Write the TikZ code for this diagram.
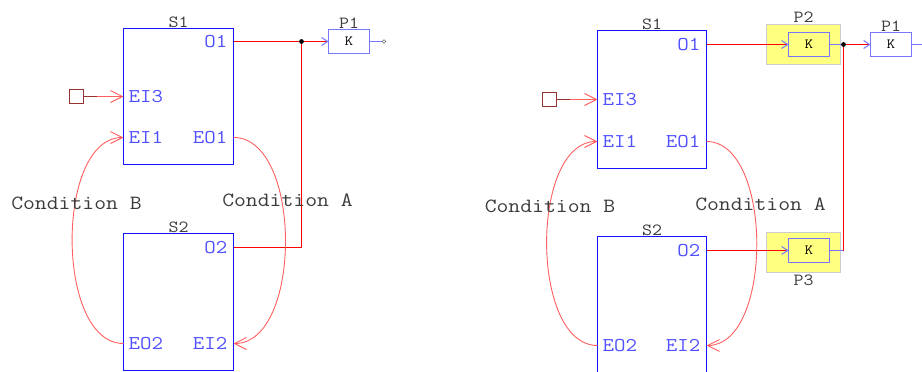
\documentclass[tikz,border=0pt]{standalone}
\usepackage{fontspec}
\setmonofont[FakeStretch=1.14]{Latin Modern Mono}
\usetikzlibrary{arrows.meta}
\usetikzlibrary{positioning}

\definecolor{blockblue}{RGB}{20,20,255}
\definecolor{portblue}{RGB}{80,80,255}
\definecolor{pinblue}{RGB}{120,120,255}
\definecolor{sigred}{RGB}{255,0,0}
\definecolor{condred}{RGB}{255,95,95}
\definecolor{srcred}{RGB}{150,50,50}
\definecolor{textgray}{RGB}{60,60,60}
\definecolor{hlyellow}{RGB}{255,255,128}
\definecolor{hlgray}{RGB}{205,205,205}

\begin{document}
\begin{tikzpicture}[x=1pt,y=-1pt,>={Straight Barb[length=12pt,width=12pt]},
  every node/.style={font=\ttfamily},
  block/.style={draw=blockblue,line width=1pt,outer sep=0pt,inner sep=0pt},
  port/.style={text=portblue,font=\ttfamily\fontsize{19.5}{19.5}\selectfont,inner sep=0pt},
  title/.style={text=textgray,font=\ttfamily\fontsize{17}{17}\selectfont,inner sep=1pt},
  condtext/.style={text=textgray,font=\ttfamily\fontsize{20.2}{20.2}\selectfont},
  kbox/.style={draw=pinblue,line width=1pt,fill=white,minimum width=41pt,minimum height=24pt,
    outer sep=0pt,inner sep=0pt,font=\ttfamily\fontsize{14}{14}\selectfont},
  hl/.style={draw=hlgray,line width=1pt,fill=hlyellow,minimum width=74pt,minimum height=40pt},
  source/.style={draw=srcred,line width=1pt,minimum width=14pt,minimum height=14pt,
    outer sep=0pt,inner sep=0pt},
  dot/.style={circle,fill=black,inner sep=1.7pt},
  pinend/.style={circle,draw=textgray,fill=white,inner sep=1.3pt},
  sig/.style={draw=sigred,line width=1.2pt},
  cond/.style={draw=condred,line width=0.9pt},
  pinline/.style={draw=pinblue,line width=1pt},
  parr/.style={-{Straight Barb[length=6pt,width=8pt,color=pinblue,line width=1pt]}}]

\useasboundingbox (0,0) rectangle (922,372);

%%% left: S1/S2 feeding P1 directly
\node[block,minimum width=110pt,minimum height=136pt] (a1) at (178.5,96.5) {};
\node[block,minimum width=110pt,minimum height=137pt] (a2) at (178.5,302) {};
\node[title] (a1t) [above=0pt of a1] {S1};
\node[title] (a2t) [above=0pt of a2] {S2};

\coordinate (a1o1)  at ([yshift=-13pt]a1.north east);
\coordinate (a1ei3) at ([yshift=-68pt]a1.north west);
\coordinate (a1ei1) at ([yshift=-109pt]a1.north west);
\coordinate (a1eo1) at ([yshift=-109pt]a1.north east);
\coordinate (a2o2)  at ([yshift=-14pt]a2.north east);
\coordinate (a2eo2) at ([yshift=-110pt]a2.north west);
\coordinate (a2ei2) at ([yshift=-110pt]a2.north east);

\node[port,anchor=east] (a1o1l)  at ([xshift=-6pt]a1o1) {O1};
\node[port,anchor=west] (a1ei3l) at ([xshift=5pt]a1ei3) {EI3};
\node[port,anchor=west] (a1ei1l) at ([xshift=5pt]a1ei1) {EI1};
\node[port,anchor=east] (a1eo1l) at ([xshift=-6pt]a1eo1) {EO1};
\node[port,anchor=east] (a2o2l)  at ([xshift=-6pt]a2o2) {O2};
\node[port,anchor=west] (a2eo2l) at ([xshift=5pt]a2eo2) {EO2};
\node[port,anchor=east] (a2ei2l) at ([xshift=-6pt]a2ei2) {EI2};

\node[source] (a1src) at (76.5,96.5) {};
\coordinate (a1s) at (97,96.5);
\draw[draw=srcred,line width=1pt] (a1src) -- (a1s);
\draw[cond,->] (a1s) -- (a1ei3);

\node[kbox] (p1a) at (349,41.5) {K};
\node[title] (p1at) [above=0pt of p1a] {P1};
\node[pinend] (p1aend) at (384,41.5) {};
\node[dot] (a1j) at (301.5,41.5) {};

\draw[sig] (a1o1) -- (a1j);
\draw[sig,parr] (a1j) -- (p1a);
\draw[pinline] (p1a) -- (p1aend);
\draw[sig] (a2o2) -| (a1j);

\draw[cond,->] (a2eo2) to[out=180,in=180,looseness=0.85] (a1ei1);
\draw[cond,->] (a1eo1) to[out=0,in=0,looseness=0.86] (a2ei2);
\node[condtext] (a1cb) at (76.5,203) {Condition B};
\node[condtext] (a1ca) at (287.5,200.7) {Condition A};

%%% right: same pair, O1 and O2 through P2/P3
\node[block,minimum width=109pt,minimum height=138pt] (b1) at (652,99.5) {};
\node[block,minimum width=109pt,minimum height=137pt] (b2) at (652,305) {};
\node[title] (b1t) [above=0pt of b1] {S1};
\node[title] (b2t) [above=0pt of b2] {S2};

\coordinate (b1o1)  at ([yshift=-14pt]b1.north east);
\coordinate (b1ei3) at ([yshift=-69pt]b1.north west);
\coordinate (b1ei1) at ([yshift=-111pt]b1.north west);
\coordinate (b1eo1) at ([yshift=-111pt]b1.north east);
\coordinate (b2o2)  at ([yshift=-14pt]b2.north east);
\coordinate (b2eo2) at ([yshift=-109pt]b2.north west);
\coordinate (b2ei2) at ([yshift=-109pt]b2.north east);

\node[port,anchor=east] (b1o1l)  at ([xshift=-6pt]b1o1) {O1};
\node[port,anchor=west] (b1ei3l) at ([xshift=5pt]b1ei3) {EI3};
\node[port,anchor=west] (b1ei1l) at ([xshift=5pt]b1ei1) {EI1};
\node[port,anchor=east] (b1eo1l) at ([xshift=-6pt]b1eo1) {EO1};
\node[port,anchor=east] (b2o2l)  at ([xshift=-6pt]b2o2) {O2};
\node[port,anchor=west] (b2eo2l) at ([xshift=5pt]b2eo2) {EO2};
\node[port,anchor=east] (b2ei2l) at ([xshift=-6pt]b2ei2) {EI2};

\node[source] (b1src) at (549.5,99.5) {};
\coordinate (b1s) at (570,99.5);
\draw[draw=srcred,line width=1pt] (b1src) -- (b1s);
\draw[cond,->] (b1s) -- (b1ei3);

\node[hl] (p2) at (803.5,44.5) {};
\node[kbox,fill=hlyellow] (p2k) at (809,44.5) {K};
\node[title] (p2t) [above=0pt of p2] {P2};
\node[hl] (p3) at (803.5,252.5) {};
\node[kbox,fill=hlyellow] (p3k) at (809,250.5) {K};
\node[title] (p3t) [below=1pt of p3] {P3};
\node[kbox] (p1b) at (891,44.5) {K};
\node[title] (p1bt) [above=0pt of p1b] {P1};
\coordinate (b1out) at (924,44.5);
\coordinate (bjc) at (843.5,44.5);
\coordinate (bk) at (843.5,250.5);

\draw[sig,parr] (b1o1) -- (p2k);
\draw[pinline] (p2k) -- (bjc);
\draw[sig,parr] (bjc) -- (p1b);
\draw[pinline] (p1b) -- (b1out);
\draw[sig,parr] (b2o2) -- (p3k);
\draw[pinline] (p3k) -- (bk);
\draw[sig] (bk) -- (bjc);
\node[dot] (bj) at (bjc) {};

\draw[cond,->] (b2eo2) to[out=180,in=180,looseness=0.85] (b1ei1);
\draw[cond,->] (b1eo1) to[out=0,in=0,looseness=0.84] (b2ei2);
\node[condtext] (b1cb) at (550,206.7) {Condition B};
\node[condtext] (b1ca) at (760.5,204) {Condition A};
\end{tikzpicture}
\end{document}
